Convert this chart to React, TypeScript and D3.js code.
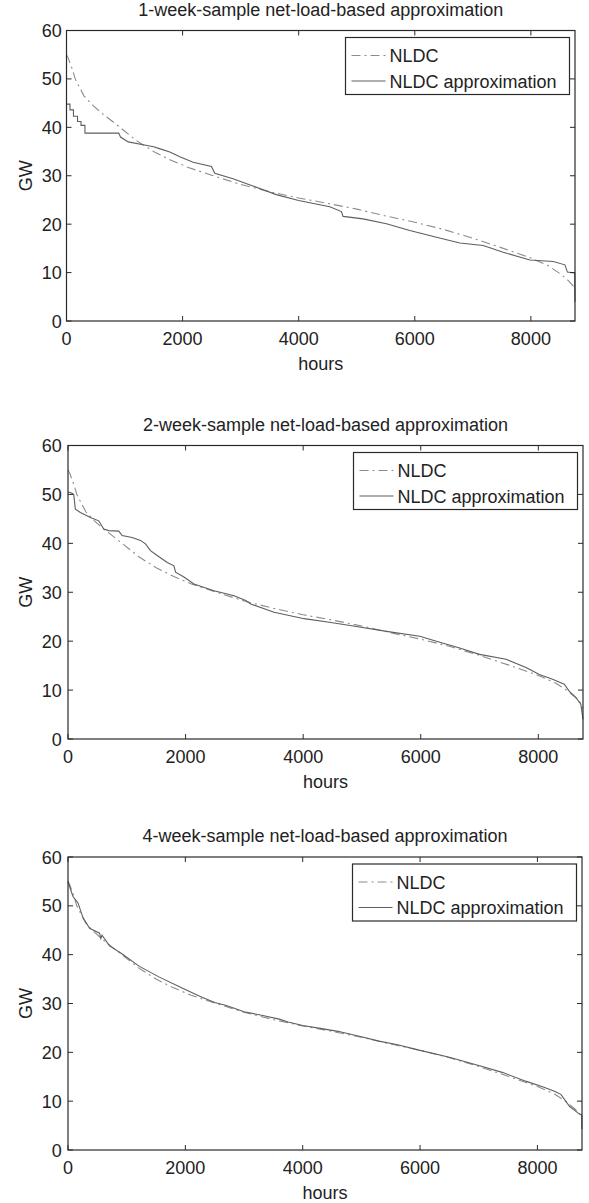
import React from "react";
import * as d3 from "d3";

// ---- data (hours, GW) ----
const nldcHours = [0, 30, 100, 150, 300, 450, 600, 900, 1200, 1500, 1800, 2100, 2500, 3000, 3500, 4000, 4500, 5000, 5500, 6000, 6500, 7000, 7500, 8000, 8300, 8500, 8650, 8730, 8760];
const nldcValues = [55.0, 54.3, 52.0, 50.0, 46.5, 44.6, 43.0, 40.2, 37.3, 35.0, 33.2, 31.7, 30.1, 28.2, 26.7, 25.4, 24.3, 23.1, 21.7, 20.4, 18.9, 17.1, 15.1, 13.0, 11.4, 9.8, 8.3, 7.2, 6.3];

const approx1Hours = [0, 60, 60, 120, 120, 190, 190, 250, 250, 318, 318, 900, 930, 1063, 1321, 1500, 1600, 1780, 1952, 2181, 2497, 2554, 2868, 3212, 3614, 4000, 4534, 4736, 4764, 5109, 5511, 5914, 6374, 6776, 7178, 7523, 7983, 8385, 8586, 8630, 8755, 8760];
const approx1Values = [44.8, 44.8, 43.6, 43.6, 42.3, 42.3, 41.2, 41.2, 40.4, 40.4, 38.8, 38.8, 38.0, 37.0, 36.4, 36.0, 35.6, 34.9, 33.9, 32.8, 31.9, 30.5, 29.4, 27.9, 26.1, 24.9, 23.6, 22.6, 21.6, 21.1, 20.1, 18.7, 17.3, 16.1, 15.6, 14.2, 12.6, 12.3, 11.6, 10.1, 9.9, 4.0];

const approx2Hours = [0, 60, 97, 125, 210, 381, 523, 608, 693, 864, 920, 1091, 1233, 1318, 1403, 1517, 1688, 1801, 1830, 1972, 2142, 2483, 2824, 3023, 3108, 3506, 4017, 4472, 4853, 5418, 5983, 6266, 6661, 7000, 7452, 7791, 8017, 8243, 8441, 8525, 8638, 8723, 8760];
const approx2Values = [50.5, 50.3, 50.0, 47.0, 46.3, 45.3, 44.6, 42.9, 42.6, 42.5, 41.6, 41.2, 40.6, 39.9, 38.5, 37.5, 36.1, 35.4, 34.1, 33.1, 31.7, 30.3, 29.3, 28.3, 27.6, 25.9, 24.6, 23.8, 23.1, 22.0, 21.0, 20.0, 18.6, 17.3, 16.3, 14.6, 13.2, 12.2, 11.2, 9.8, 8.5, 7.1, 4.0];

const approx3Hours = [0, 40, 85, 170, 255, 368, 538, 560, 580, 708, 906, 1217, 1557, 1953, 2244, 2500, 2700, 3000, 3300, 3600, 3750, 4000, 4300, 4600, 5000, 5300, 5600, 6000, 6500, 7000, 7400, 7800, 8100, 8300, 8400, 8550, 8713, 8755, 8760];
const approx3Values = [55.0, 53.5, 51.9, 50.6, 47.6, 45.4, 44.4, 43.3, 44.0, 41.8, 40.3, 37.6, 35.4, 33.1, 31.5, 30.2, 29.6, 28.3, 27.6, 26.8, 26.2, 25.5, 24.9, 24.3, 23.2, 22.3, 21.6, 20.4, 19.0, 17.3, 15.9, 14.1, 12.9, 12.0, 11.4, 8.9, 7.4, 7.2, 4.3];

const titles = [
  "1-week-sample net-load-based approximation",
  "2-week-sample net-load-based approximation",
  "4-week-sample net-load-based approximation",
];
const xTicks = [0, 2000, 4000, 6000, 8000];
const yTicks = [0, 10, 20, 30, 40, 50, 60];
const legendLabels = ["NLDC", "NLDC approximation"];
const xLabel = "hours";
const yLabel = "GW";

const panels = [
  { title: titles[0], hours: approx1Hours, values: approx1Values, box: { left: 66.5, right: 575, top: 30.5, bottom: 321 } },
  { title: titles[1], hours: approx2Hours, values: approx2Values, box: { left: 68, right: 583, top: 445.5, bottom: 739 } },
  { title: titles[2], hours: approx3Hours, values: approx3Values, box: { left: 68, right: 582, top: 857, bottom: 1150 } },
];

const FONT = "'Liberation Sans', Arial, Helvetica, sans-serif";
const AXIS = "#2a2a2a";
const NLDC_COLOR = "#8c8c8c";
const APPROX_COLOR = "#5e5e5e";
const DASH = "9,4,2,4";

function Panel({ p }: { p: typeof panels[number] }) {
  const { left, right, top, bottom } = p.box;
  const x = d3.scaleLinear().domain([0, 8760]).range([left, right]);
  const y = d3.scaleLinear().domain([0, 60]).range([bottom, top]);
  const line = d3.line<[number, number]>().x((d) => x(d[0])).y((d) => y(d[1]));
  const nldcPts = nldcHours.map((h, i) => [h, nldcValues[i]] as [number, number]);
  const apxPts = p.hours.map((h, i) => [h, p.values[i]] as [number, number]);
  const tl = 5;
  const lgW = 224, lgH = 57;
  const lgX = right - 5.5 - lgW;
  const lgY = top + 7;
  return (
    <g>
      <text x={(left + right) / 2} y={top - 15} textAnchor="middle" fontSize={18} fill="#222" fontFamily={FONT}>
        {p.title}
      </text>
      <path d={line(nldcPts) || ""} fill="none" stroke={NLDC_COLOR} strokeWidth={1.1} strokeDasharray={DASH} />
      <path d={line(apxPts) || ""} fill="none" stroke={APPROX_COLOR} strokeWidth={1.1} />
      <rect x={left} y={top} width={right - left} height={bottom - top} fill="none" stroke={AXIS} strokeWidth={1.2} />
      {xTicks.map((t) => (
        <g key={"x" + t}>
          <line x1={x(t)} x2={x(t)} y1={bottom} y2={bottom - tl} stroke={AXIS} />
          <line x1={x(t)} x2={x(t)} y1={top} y2={top + tl} stroke={AXIS} />
          <text x={x(t)} y={bottom + 23.5} textAnchor="middle" fontSize={18} fill="#222" fontFamily={FONT}>
            {t}
          </text>
        </g>
      ))}
      {yTicks.map((t) => (
        <g key={"y" + t}>
          <line x1={left} x2={left + tl} y1={y(t)} y2={y(t)} stroke={AXIS} />
          <line x1={right} x2={right - tl} y1={y(t)} y2={y(t)} stroke={AXIS} />
          <text x={61.7} y={y(t) + 6.5} textAnchor="end" fontSize={18} fill="#222" fontFamily={FONT}>
            {t}
          </text>
        </g>
      ))}
      <text x={(left + right) / 2} y={bottom + 49} textAnchor="middle" fontSize={18} fill="#222" fontFamily={FONT}>
        {xLabel}
      </text>
      <text transform={`translate(32,${(top + bottom) / 2}) rotate(-90)`} textAnchor="middle" fontSize={18} fill="#222" fontFamily={FONT}>
        {yLabel}
      </text>
      <rect x={lgX} y={lgY} width={lgW} height={lgH} fill="#fff" stroke={AXIS} strokeWidth={1.2} />
      <line x1={lgX + 6} x2={lgX + 40} y1={lgY + 18} y2={lgY + 18} stroke={NLDC_COLOR} strokeWidth={1.1} strokeDasharray="9,4,2,4" />
      <text x={lgX + 44} y={lgY + 18 + 6.5} fontSize={18} fill="#222" fontFamily={FONT}>
        {legendLabels[0]}
      </text>
      <line x1={lgX + 6} x2={lgX + 40} y1={lgY + 43.5} y2={lgY + 43.5} stroke={APPROX_COLOR} strokeWidth={1.1} />
      <text x={lgX + 44} y={lgY + 43.5 + 6.5} fontSize={18} fill="#222" fontFamily={FONT}>
        {legendLabels[1]}
      </text>
    </g>
  );
}

export default function App() {
  return (
    <svg
      width={589}
      height={1203}
      style={{ position: "absolute", left: 0, top: 0, background: "#fff" }}
    >
      <rect x={0} y={0} width={589} height={1203} fill="#fff" />
      {panels.map((p, i) => (
        <Panel key={i} p={p} />
      ))}
    </svg>
  );
}
